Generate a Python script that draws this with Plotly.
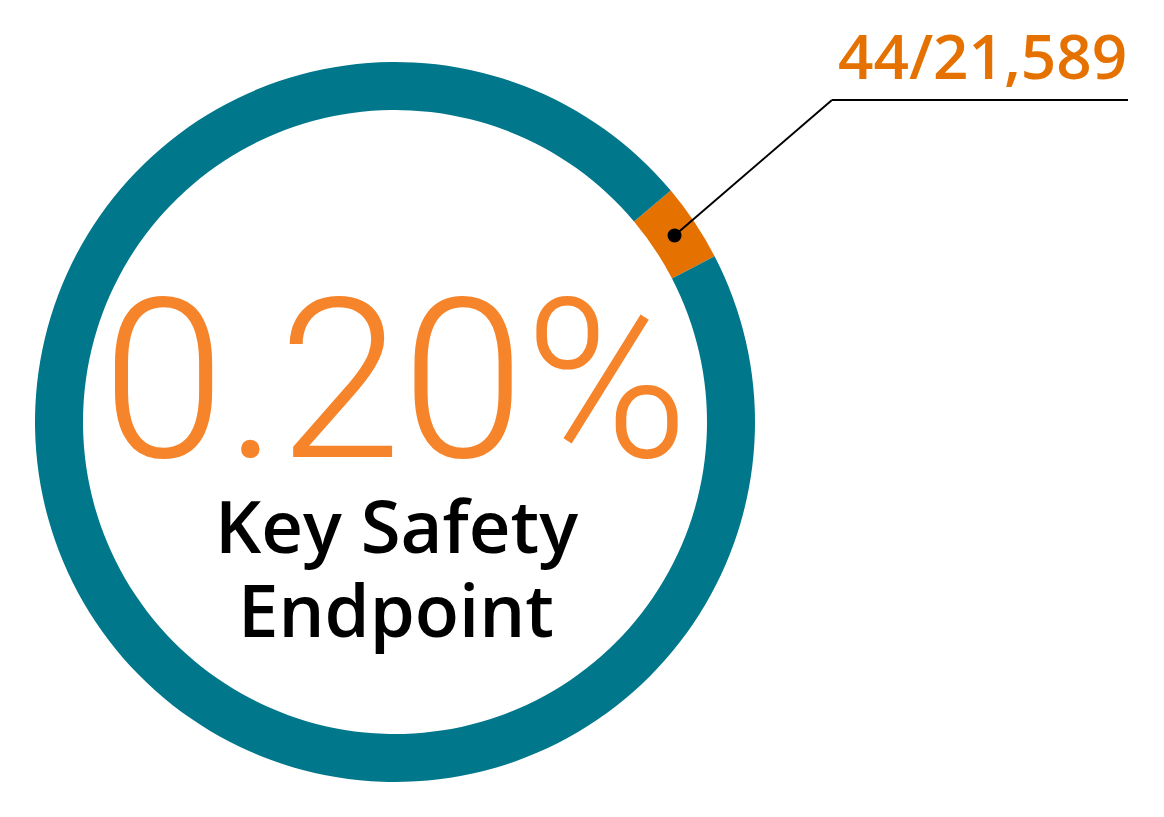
import math

import plotly.graph_objects as go

# slice shares as drawn (the small slice is enlarged for visibility)
slice_labels = ["Key safety endpoint events", "Other participants"]
slice_values = [3.5, 96.5]
slice_colors = ["#E57200", "#00778A"]

headline = "0.20%"
subtitle_lines = ["Key Safety", "Endpoint"]
callout = "44/21,589"

W, H = 1164, 817
PAD = 8  # page body margin pushes the plot right/down
cx, cy, r_out, r_in = 395 - PAD, 422 - PAD, 360, 312
start_angle = 50


def px(x):
    return (x - PAD) / W


def py(y):
    return 1 - (y - PAD) / H


fig = go.Figure(
    go.Pie(
        labels=slice_labels,
        values=slice_values,
        marker=dict(colors=slice_colors, line=dict(width=0)),
        hole=r_in / r_out,
        sort=False,
        direction="clockwise",
        rotation=start_angle,
        textinfo="none",
        hoverinfo="label+value",
        showlegend=False,
        domain=dict(
            x=[(cx - r_out) / W, (cx + r_out) / W],
            y=[1 - (cy + r_out) / H, 1 - (cy - r_out) / H],
        ),
    )
)

# callout dot sits in the middle of the small slice
mid = math.radians(start_angle + slice_values[0] / sum(slice_values) * 180)
r_mid = (r_out + r_in) / 2
dot_x = (cx + r_mid * math.sin(mid)) / W
dot_y = 1 - (cy - r_mid * math.cos(mid)) / H

fig.add_shape(type="line", xref="paper", yref="paper",
              x0=dot_x, y0=dot_y, x1=px(832), y1=py(100),
              line=dict(color="black", width=2))
fig.add_shape(type="line", xref="paper", yref="paper",
              x0=px(832), y0=py(100), x1=px(1128), y1=py(100),
              line=dict(color="black", width=2))
fig.add_shape(type="circle", xref="paper", yref="paper",
              xsizemode="pixel", ysizemode="pixel",
              xanchor=dot_x, yanchor=dot_y, x0=-7, x1=7, y0=-7, y1=7,
              fillcolor="black", line=dict(width=0))

fig.add_annotation(x=px(395), y=py(381), xref="paper", yref="paper",
                   text=headline, showarrow=False, xanchor="center", yanchor="middle",
                   font=dict(family="Roboto", size=222, color="#F5842B", weight=300))
for i, line in enumerate(subtitle_lines):
    fig.add_annotation(x=px(396), y=py(525 + 84 * i), xref="paper", yref="paper",
                       text=line, showarrow=False, xanchor="center", yanchor="middle",
                       font=dict(family="Open Sans", size=72.5, color="black", weight=600))
fig.add_annotation(x=px(982), y=py(55), xref="paper", yref="paper",
                   text=callout, showarrow=False, xanchor="center", yanchor="middle",
                   font=dict(family="Open Sans", size=62, color="#E57200", weight=600))

fig.update_layout(
    width=W,
    height=H,
    margin=dict(l=0, r=0, t=0, b=0),
    paper_bgcolor="white",
    plot_bgcolor="white",
)
fig.write_html("out.html")
